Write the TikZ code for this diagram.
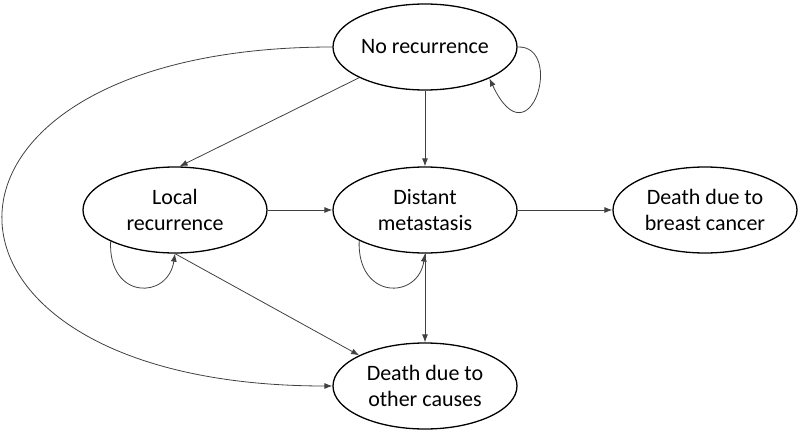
\documentclass[tikz,border=0pt]{standalone}
\usepackage{fontspec}
\setmainfont{Carlito}
\usetikzlibrary{shapes.geometric,arrows.meta}
\begin{document}
\begin{tikzpicture}[x=1pt,y=-1pt,
  state/.style={ellipse,draw=black,line width=1.3pt,minimum width=184pt,minimum height=86pt,inner sep=0pt,align=center,font=\fontsize{22}{26.5}\selectfont},
  conn/.style={draw=black!75,line width=0.8pt,-{Latex[length=8pt,width=6pt]}},
  plain/.style={draw=black!75,line width=0.8pt}]
\useasboundingbox (0,0) rectangle (800,433);
\node[state] (nr) at (425,47) {No recurrence};
\node[state] (lr) at (175,210) {Local\\recurrence};
\node[state] (dm) at (425,210) {Distant\\metastasis};
\node[state] (bc) at (705,210) {Death due to\\breast cancer};
\node[state] (oc) at (425,386) {Death due to\\other causes};
% edges
\draw[conn] (nr.205) -- (lr.84);
\draw[conn] (nr.south) -- (dm.north);
\draw[conn] (lr.east) -- (dm.west);
\draw[conn] (dm.east) -- (bc.west);
\draw[conn] (lr.south) -- (oc.155);
\draw[conn] (dm.south) -- (oc.north);
\draw[conn] (nr.west) .. controls (-107,47) and (-107,386) .. (oc.west);
% self loops
\draw[conn] (nr.east) .. controls (565,45) and (530,165) .. (nr.-26);
\draw[conn] (lr.206) .. controls (108,300) and (168,300) .. (lr.south);
\draw[conn] (dm.205) .. controls (357,300) and (418,300) .. (dm.south);
\end{tikzpicture}
\end{document}
